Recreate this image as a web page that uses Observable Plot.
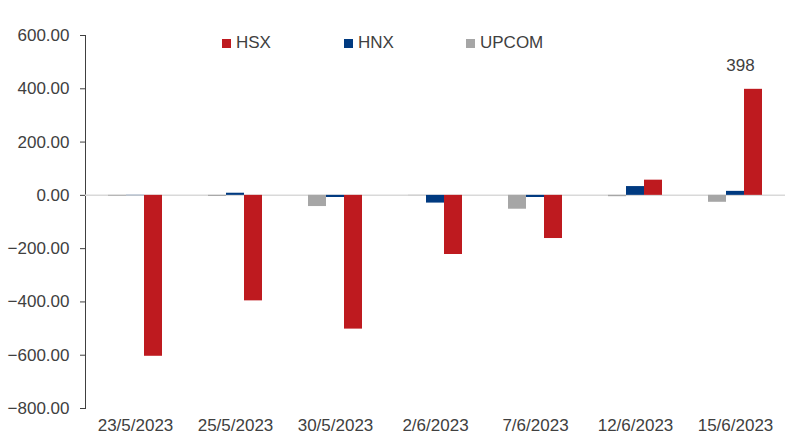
<!DOCTYPE html>
<html>
<head>
<meta charset="utf-8">
<script src="https://cdn.jsdelivr.net/npm/d3@7"></script>
<script src="https://cdn.jsdelivr.net/npm/@observablehq/plot@0.6"></script>
<style>
  html, body { margin: 0; padding: 0; background: #fff; }
  #wrap { position: relative; width: 795px; height: 436px; font-family: "Liberation Sans", Arial, sans-serif; }
  #legend { position: absolute; top: 33px; left: 0; width: 795px; height: 20px; font-size: 17px; color: #404040; }
  .item { position: absolute; display: flex; align-items: center; white-space: nowrap; }
  .sw { width: 9px; height: 9px; margin-right: 5px; }
</style>
</head>
<body>
<div id="wrap"><div id="legend"></div></div>
<script>
const dates = ["23/5/2023","25/5/2023","30/5/2023","2/6/2023","7/6/2023","12/6/2023","15/6/2023"];
const seriesNames = ["UPCOM", "HNX", "HSX"];
const legendOrder = ["HSX", "HNX", "UPCOM"];
const colors = ["#A6A6A6", "#003A80", "#BE1A1F"];
const hsx = [-604, -396, -502, -222, -162, 57, 398];
const hnx = [-1, 8, -8, -29, -8, 33, 15];
const upcom = [-3, -4, -42, -1, -52, -5, -26];
const yTicks = [-800, -600, -400, -200, 0, 200, 400, 600];
const labelledDate = "15/6/2023";

const seriesValues = { HSX: hsx, HNX: hnx, UPCOM: upcom };
const data = [];
dates.forEach((d, i) => {
  seriesNames.forEach(s => data.push({ date: d, series: s, value: seriesValues[s][i] }));
});
const labelData = data.filter(r => r.series === "HSX" && r.date === labelledDate);

const chart = Plot.plot({
  width: 795,
  height: 436,
  marginLeft: 82,
  marginRight: 7,
  marginTop: 35,
  marginBottom: 28,
  style: { fontFamily: "'Liberation Sans', Arial, sans-serif", fontSize: "17px", color: "#404040", background: "#fff" },
  fx: { domain: dates, padding: 0, label: null, tickSize: 0, tickPadding: 10 },
  x: { domain: seriesNames, paddingInner: 0, paddingOuter: 1.15, axis: null },
  y: { domain: [-800, 600], ticks: yTicks, label: null, tickFormat: d3.format(".2f"), tickSize: 5, tickPadding: 11, line: true },
  color: { domain: seriesNames, range: colors },
  marks: [
    Plot.ruleY([0], { stroke: "#D9D9D9", strokeWidth: 1.5 }),
    Plot.barY(data, { fx: "date", x: "series", y: "value", fill: "series" }),
    Plot.text(labelData, { fx: "date", x: "series", y: "value", text: d => String(d.value), dy: -24, dx: -13, fill: "#404040", fontSize: 17 })
  ]
});
document.getElementById("wrap").prepend(chart);

const legend = document.getElementById("legend");
const legendX = [222, 344, 466];
legendOrder.forEach((s, i) => {
  const it = document.createElement("div");
  it.className = "item";
  it.style.left = legendX[i] + "px";
  const sw = document.createElement("span");
  sw.className = "sw";
  sw.style.background = colors[seriesNames.indexOf(s)];
  const t = document.createElement("span");
  t.textContent = s;
  it.append(sw, t);
  legend.append(it);
});
</script>
</body>
</html>
